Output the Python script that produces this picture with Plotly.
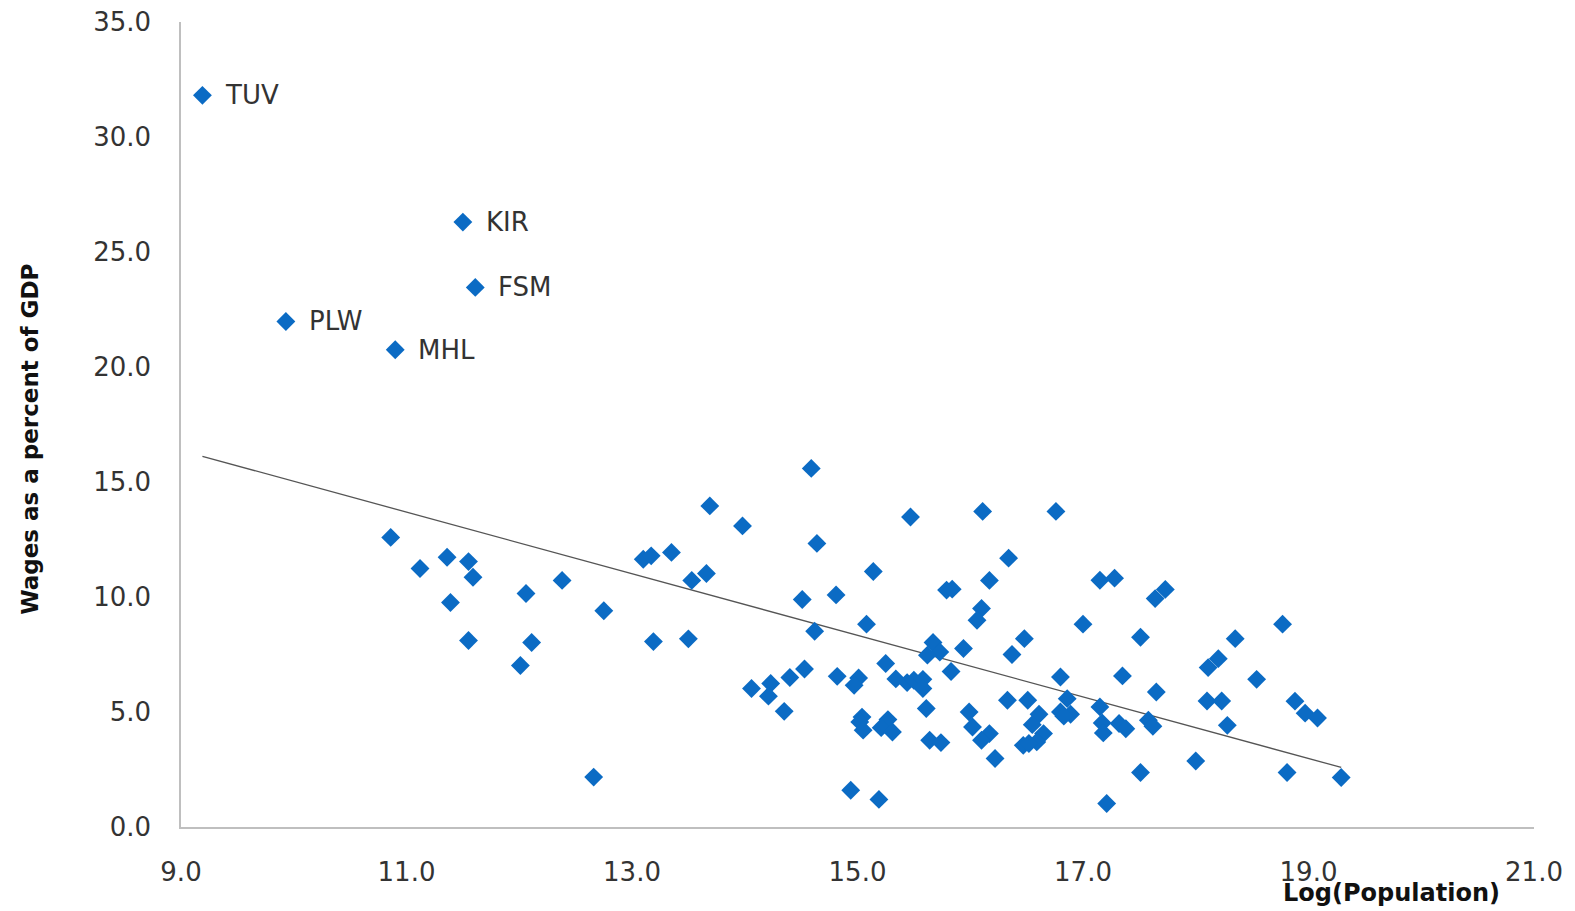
import plotly.graph_objects as go

# Labeled outliers
label_names = ["TUV", "KIR", "FSM", "PLW", "MHL"]
label_x = [9.19, 11.50, 11.61, 9.93, 10.90]
label_y = [31.81, 26.30, 23.46, 21.98, 20.75]

# Other countries: log(population) and wages as % of GDP
pop_x = [
    10.86, 11.12, 11.36, 11.55, 11.59, 11.39, 11.55, 12.06, 12.38, 12.75, 12.11, 12.01, 12.66,
    13.10, 13.17, 13.35, 13.69, 13.98, 13.53, 13.66, 13.19, 13.50, 14.06,
    14.59, 15.47, 16.11, 16.76, 14.64, 16.34, 15.14, 17.15, 17.28, 16.17, 15.79, 15.84,
    14.51, 14.81, 16.10, 16.06, 15.08, 14.62, 17.00, 17.51, 16.48, 15.94, 16.37,
    15.67, 15.73, 15.62, 15.83, 14.53, 14.40, 14.23, 14.21, 14.82, 15.01, 14.97, 15.25,
    15.34, 15.44, 15.50, 15.58, 15.58, 16.80, 17.35, 17.65, 14.35, 15.61, 16.33, 16.51,
    17.15, 15.04, 15.02, 15.05, 15.27, 15.21, 15.31, 15.99, 16.02, 16.17, 16.10,
    15.64, 15.74, 16.22, 16.61, 16.55, 16.65, 16.59, 16.47, 16.52, 16.86, 16.80, 16.89,
    16.83, 17.17, 17.18, 17.32, 17.38, 17.58, 17.62, 17.51, 14.94, 15.19, 17.21,
    17.64, 17.73, 18.77, 18.35, 18.11, 18.20, 18.54, 18.10, 18.23, 18.88, 18.97, 19.08,
    18.28, 18.00, 18.81, 19.29,
]
wage_y = [
    12.59, 11.24, 11.73, 11.54, 10.86, 9.76, 8.11, 10.15, 10.72, 9.40, 8.02, 7.02, 2.17,
    11.64, 11.79, 11.94, 13.96, 13.09, 10.72, 11.02, 8.06, 8.18, 6.02,
    15.59, 13.48, 13.72, 13.72, 12.33, 11.69, 11.11, 10.73, 10.82, 10.72, 10.30, 10.34,
    9.89, 10.09, 9.50, 8.99, 8.82, 8.51, 8.82, 8.25, 8.19, 7.76, 7.50,
    8.02, 7.61, 7.47, 6.76, 6.87, 6.50, 6.24, 5.69, 6.55, 6.48, 6.16, 7.11,
    6.44, 6.28, 6.38, 6.42, 6.02, 6.52, 6.57, 5.87, 5.03, 5.15, 5.51, 5.51,
    5.22, 4.78, 4.57, 4.21, 4.67, 4.32, 4.13, 5.00, 4.35, 4.06, 3.77,
    3.77, 3.67, 2.98, 4.90, 4.45, 4.06, 3.70, 3.55, 3.63, 5.58, 5.00, 4.90,
    4.82, 4.52, 4.09, 4.50, 4.27, 4.64, 4.38, 2.37, 1.60, 1.20, 1.02,
    9.93, 10.33, 8.82, 8.19, 6.93, 7.32, 6.42, 5.48, 5.48, 5.47, 4.95, 4.74,
    4.42, 2.87, 2.37, 2.15,
]

# Linear trend: y = intercept + slope * x
trend_intercept = 28.42
trend_slope = -1.339

all_x = label_x + pop_x
all_y = label_y + wage_y
x_min, x_max = min(all_x), max(all_x)
trend_x = [x_min, x_max]
trend_y = [trend_intercept + trend_slope * v for v in trend_x]

BLUE = "#0B6BC4"
TEXT = "#333333"
FONT = "DejaVu Sans"

fig = go.Figure()
fig.add_trace(go.Scatter(
    x=trend_x, y=trend_y, mode="lines",
    line=dict(color="#555555", width=1.3), hoverinfo="skip", showlegend=False,
))
fig.add_trace(go.Scatter(
    x=all_x, y=all_y, mode="markers",
    marker=dict(symbol="diamond", size=14.5, color=BLUE, line=dict(width=0)),
    showlegend=False,
))

annotations = []
for n, xv, yv in zip(label_names, label_x, label_y):
    annotations.append(dict(
        x=xv, y=yv, xref="x", yref="y", text=n, showarrow=False,
        xanchor="left", yanchor="middle", xshift=21,
        font=dict(family=FONT, size=26, color=TEXT),
    ))
annotations.append(dict(
    x=0, y=0.481, xref="paper", yref="paper", text="<b>Wages as a percent of GDP</b>",
    showarrow=False, textangle=-90, xanchor="center", yanchor="middle", xshift=-151,
    font=dict(family=FONT, size=23, color="#111111"),
))
annotations.append(dict(
    x=0.8945, y=0, xref="paper", yref="paper", text="<b>Log(Population)</b>",
    showarrow=False, xanchor="center", yanchor="middle", yshift=-66,
    font=dict(family=FONT, size=24, color="#111111"),
))

fig.update_layout(
    width=1567, height=903, autosize=False,
    margin=dict(l=173, r=41, t=14, b=84),
    paper_bgcolor="white", plot_bgcolor="white",
    annotations=annotations,
    xaxis=dict(
        range=[9, 21], tick0=9, dtick=2, tickformat=".1f",
        showline=True, linecolor="#BFBFBF", linewidth=1.5,
        showgrid=False, zeroline=False, ticks="", ticklabelstandoff=21,
        ticklabeloverflow="allow", automargin=False,
        tickfont=dict(family=FONT, size=26, color=TEXT),
    ),
    yaxis=dict(
        range=[0, 35], tick0=0, dtick=5, tickformat=".1f",
        showline=True, linecolor="#BFBFBF", linewidth=1.5,
        showgrid=False, zeroline=False, ticks="", ticklabelstandoff=23,
        ticklabeloverflow="allow", automargin=False,
        tickfont=dict(family=FONT, size=26, color=TEXT),
    ),
)

fig.write_html("out.html")
